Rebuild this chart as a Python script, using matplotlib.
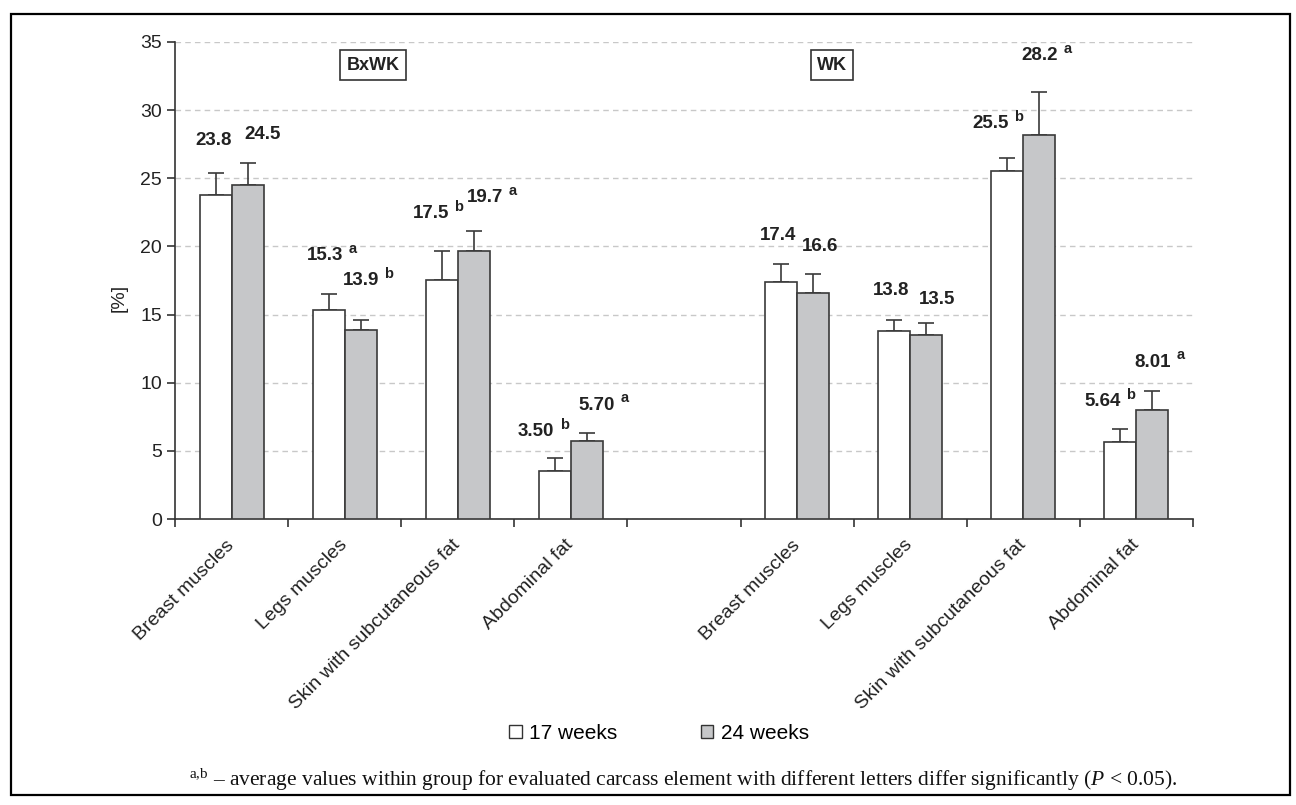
import numpy as np
import matplotlib.pyplot as plt
from matplotlib.patches import Patch, Rectangle

plt.rcParams['font.family'] = ['Liberation Sans', 'DejaVu Sans']
plt.rcParams['mathtext.fontset'] = 'custom'
plt.rcParams['mathtext.rm'] = 'Liberation Serif'
plt.rcParams['mathtext.it'] = 'Liberation Serif:italic'

# data
parts = ["Breast muscles", "Legs muscles", "Skin with subcutaneous fat", "Abdominal fat"]
groups = ["BxWK", "WK"]
w17 = [23.8, 15.3, 17.5, 3.50, 17.4, 13.8, 25.5, 5.64]
w24 = [24.5, 13.9, 19.7, 5.70, 16.6, 13.5, 28.2, 8.01]
err17 = [1.6, 1.2, 2.2, 1.0, 1.3, 0.8, 1.0, 0.95]
err24 = [1.6, 0.7, 1.4, 0.6, 1.4, 0.9, 3.1, 1.35]
sig17 = ["", "a", "b", "b", "", "", "b", "b"]
sig24 = ["", "b", "a", "a", "", "", "a", "a"]

# label placement (hand-set like in the original)
laby17 = [27.75, 19.3, 22.4, 6.4, 20.8, 16.75, 29.0, 8.6]
laby24 = [28.2, 17.5, 23.6, 8.36, 20.0, 16.1, 34.0, 11.5]
labdx17 = [-2, -4, -11, -19, -3, -3, -17, -18]
labdx24 = [15, 0, 11, 10, 7, 11, 0, 0]

slots = [0, 1, 2, 3, 5, 6, 7, 8]   # slot 4 stays empty between groups
cats = parts + [""] + parts
x = np.array(slots)
w = 0.283

fig = plt.figure(figsize=(12.96, 8.05), dpi=100)
ax = fig.add_axes([175/1296, 1-519/805, (1193-175)/1296, (519-42)/805])

ax.bar(x - w/2, w17, w, color="white", edgecolor="#3a3a3a", linewidth=1.2, zorder=3)
ax.bar(x + w/2, w24, w, color="#c6c7c9", edgecolor="#3a3a3a", linewidth=1.2, zorder=3)
ax.errorbar(x - w/2, w17, yerr=[np.zeros(8), err17], fmt="none", ecolor="#3a3a3a",
            elinewidth=1.2, capsize=5.5, capthick=1.2, zorder=2)
ax.errorbar(x + w/2, w24, yerr=[np.zeros(8), err24], fmt="none", ecolor="#3a3a3a",
            elinewidth=1.2, capsize=5.5, capthick=1.2, zorder=2)

def fmt(v):
    return f"{v:.1f}" if v >= 10 else f"{v:.2f}"

for xs, vals, ly, dx, sig in [(x - w/2, w17, laby17, labdx17, sig17),
                              (x + w/2, w24, laby24, labdx24, sig24)]:
    for xi, v, yy, d, s in zip(xs, vals, ly, dx, sig):
        t = ax.annotate(fmt(v), (xi, yy), xytext=(d * 0.72, 0), textcoords="offset points",
                        ha="center", va="center", fontsize=13.5, fontweight="bold", color="#222222")
        if s:
            ax.annotate(s, xy=(1, 0.9), xycoords=t, xytext=(4, 0), textcoords="offset points",
                        ha="left", va="center", fontsize=10.5, fontweight="bold", color="#222222")

ax.set_xlim(-0.5, 8.5)
ax.set_ylim(0, 35)
ax.set_yticks(range(0, 36, 5))
ax.set_xticks(range(9))
ax.set_xticklabels(cats, rotation=45, ha="right", va="center", rotation_mode="anchor",
                   fontsize=14, color="#222222")
ax.set_xticks(np.arange(-0.5, 9, 1), minor=True)
ax.tick_params(axis="x", which="major", length=0, pad=17)
ax.tick_params(axis="x", which="minor", length=6, width=1.2, color="#333333")
ax.tick_params(axis="y", length=6, width=1.2, color="#333333", labelsize=14, labelcolor="#222222")
for sp in ["top", "right"]:
    ax.spines[sp].set_visible(False)
for sp in ["left", "bottom"]:
    ax.spines[sp].set_linewidth(1.2)
    ax.spines[sp].set_color("#333333")
ax.grid(axis="y", linestyle=(0, (4, 3)), color="#c8c8c8", linewidth=1, zorder=0)
ax.set_axisbelow(True)

ax.text(-0.055, (519-298)/(519-42), "[%]", transform=ax.transAxes, rotation=90,
        ha="center", va="center", fontsize=14, color="#222222")

# group boxes
for name, px in zip(groups, [373, 832]):
    fig.text(px/1296, 1-65/805, name, ha="center", va="center", fontsize=13, fontweight="bold",
             color="#222222", bbox=dict(boxstyle="square,pad=0.35", fc="white", ec="#333333", lw=1.2))

handles = [Patch(facecolor="white", edgecolor="#333333", label="17 weeks"),
           Patch(facecolor="#c6c7c9", edgecolor="#333333", label="24 weeks")]
fig.legend(handles=handles, loc="center", bbox_to_anchor=(659/1296, 1-733/805), ncol=2,
           frameon=False, fontsize=15, handlelength=0.6, handleheight=0.6,
           handletextpad=0.35, columnspacing=4.0)

fig.text(683/1296, 1-780/805,
         r"$^{\rm a{,}b}$ – average values within group for evaluated carcass element with different letters differ significantly ($\it{P}$ < 0.05).",
         ha="center", va="center", fontsize=15.5, family="Liberation Serif", color="#111111")

fig.add_artist(Rectangle((11/1296, 1-795/805), (1290-11)/1296, (795-14)/805,
                         transform=fig.transFigure, fill=False, ec="black", lw=1.6))

fig.savefig("out.png", dpi=100)
